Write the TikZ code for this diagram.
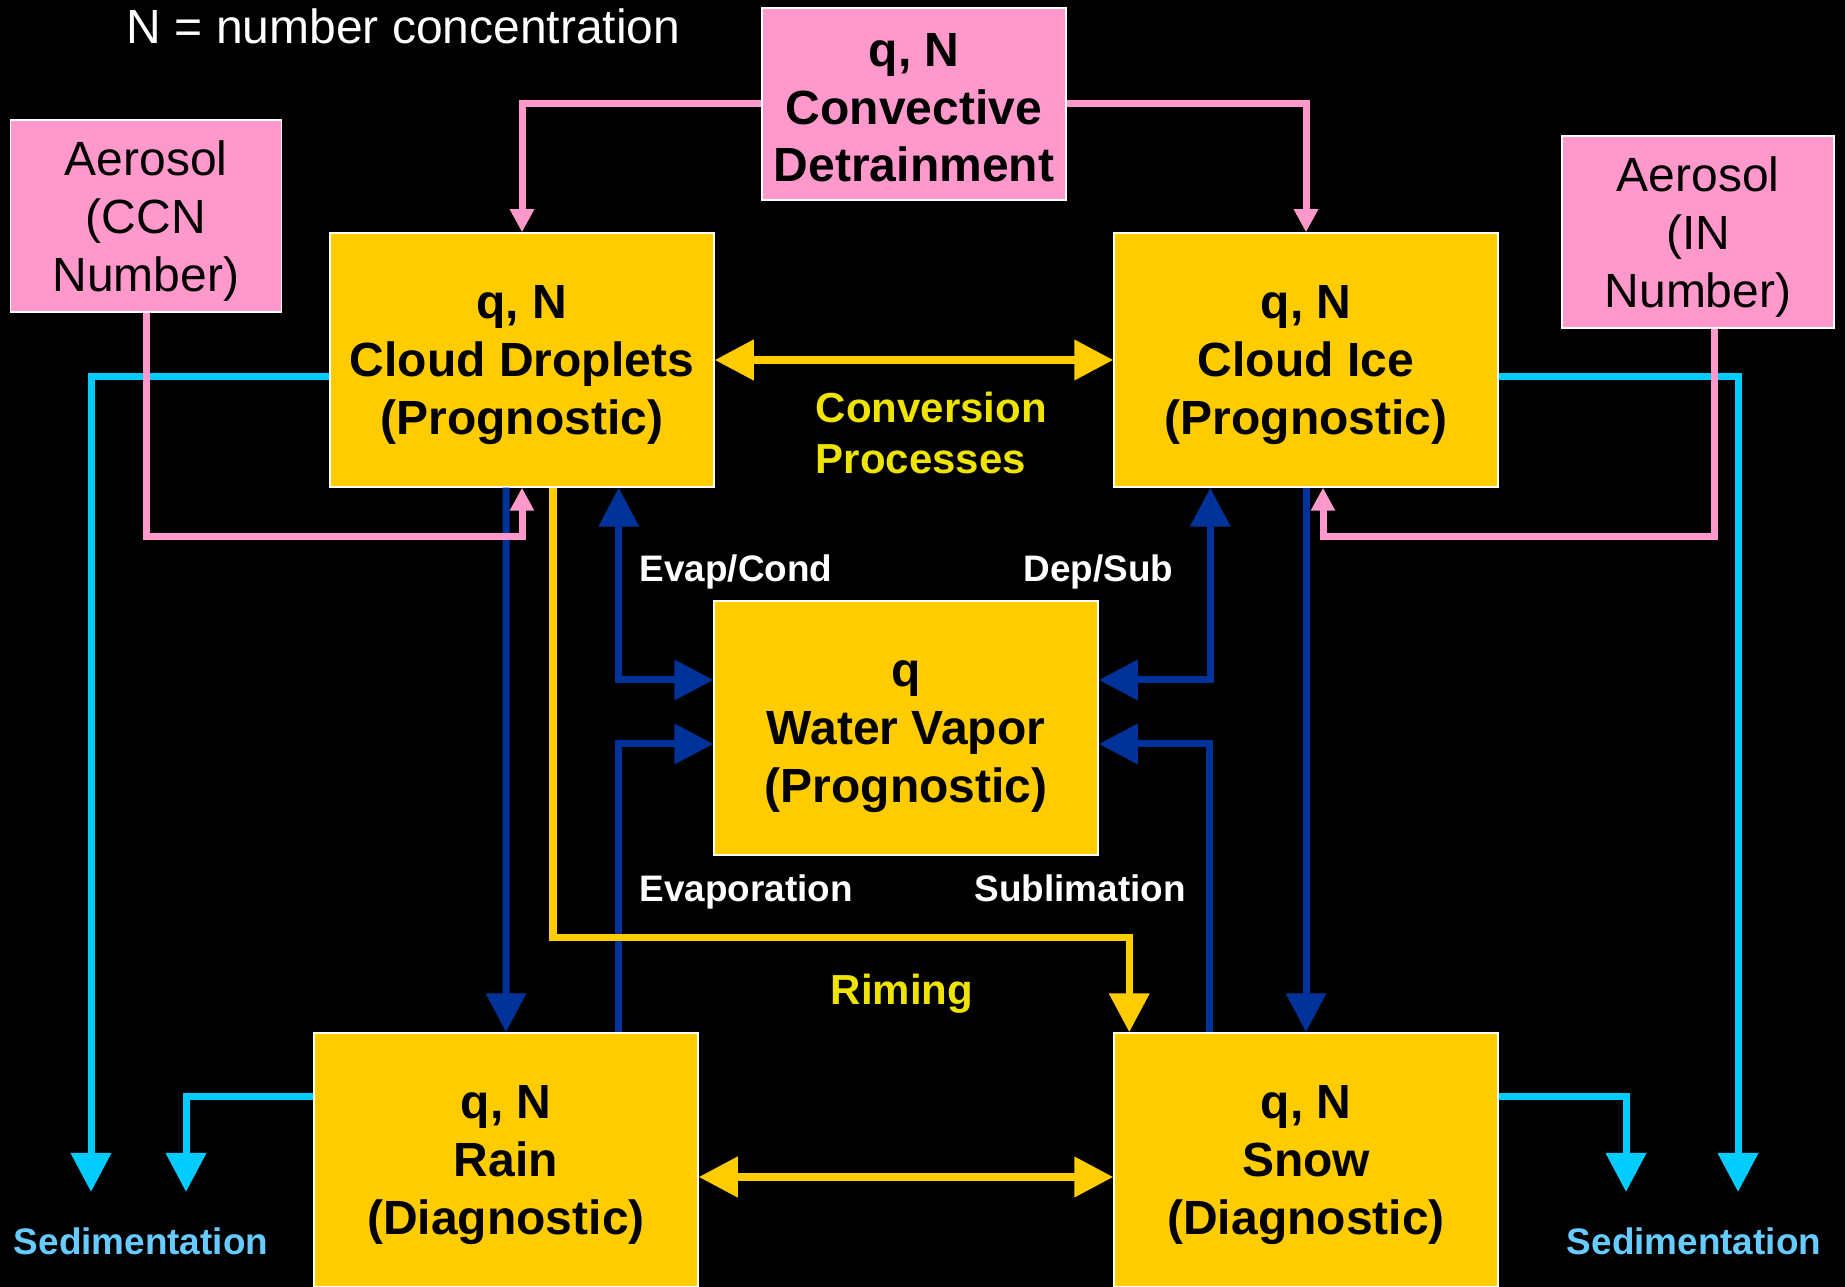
\documentclass[tikz,border=0pt]{standalone}
\usepackage{fontspec}
\setmainfont{Liberation Sans}
\usetikzlibrary{arrows.meta}
\definecolor{boxyellow}{HTML}{FFCC00}
\definecolor{boxpink}{HTML}{FF99CC}
\definecolor{flowblue}{HTML}{003399}
\definecolor{flowcyan}{HTML}{00CCFF}
\definecolor{sedblue}{HTML}{66CCFF}
\definecolor{lemon}{HTML}{EEE400}

\begin{document}
\begin{tikzpicture}[x=0.1mm,y=-0.1mm,
  species/.style={draw=white,line width=0.15mm,fill=boxyellow,minimum width=38.4mm,minimum height=25.4mm,
    inner sep=0pt,text depth=0pt,align=center,font=\fontsize{13.66}{16.4}\selectfont\bfseries},
  source/.style={draw=white,line width=0.15mm,fill=boxpink,minimum height=19.2mm,
    inner sep=0pt,text depth=0pt,align=center,font=\fontsize{13.66}{16.4}\selectfont},
  bigtip/.style={-{Triangle[length=3.9mm,width=3.9mm]}},
  bothtips/.style={{Triangle[length=3.9mm,width=3.9mm]}-{Triangle[length=3.9mm,width=3.9mm]}},
  bluearrow/.style={flowblue,line width=0.7mm},
  yellowarrow/.style={boxyellow,line width=0.75mm},
  cyanarrow/.style={flowcyan,line width=0.7mm,bigtip},
  pinkarrow/.style={boxpink,line width=0.7mm,-{Triangle[length=2.3mm,width=2.3mm]}},
  proc/.style={white,inner sep=0pt,anchor=base west,font=\fontsize{10.5}{12.6}\selectfont\bfseries},
  note/.style={lemon,inner sep=0pt,align=left,font=\fontsize{11.95}{14.5}\selectfont\bfseries}]
\useasboundingbox (0,0) rectangle (1845,1287);
\fill[black] (0,0) rectangle (1845,1287);

\node[white,inner sep=0pt,anchor=west,font=\fontsize{13.66}{16.4}\selectfont] (legend) at (126,26) {N = number concentration};
\node[source,minimum width=30.4mm,font=\fontsize{13.66}{16.4}\selectfont\bfseries] (conv) at (914,104) {\rule{0pt}{11.5pt}q, N\\Convective\\Detrainment};
\node[source,minimum width=27.1mm] (ccn) at (146,216) {Aerosol\\(CCN\\Number)};
\node[source,minimum width=27.2mm] (in) at (1698,232) {Aerosol\\(IN\\Number)};
\node[species] (drop) at (522,360) {q, N\\Cloud Droplets\\(Prognostic)};
\node[species] (ice) at (1306,360) {q, N\\Cloud Ice\\(Prognostic)};
\node[species] (vap) at (906,728) {\vphantom{N}q\\Water Vapor\\(Prognostic)};
\node[species] (rain) at (506,1160) {q, N\\Rain\\(Diagnostic)};
\node[species] (snow) at (1306,1160) {q, N\\Snow\\(Diagnostic)};

\coordinate (sedA) at (91,1192); \coordinate (sedB) at (186,1192);
\coordinate (sedC) at (1626,1192); \coordinate (sedD) at (1738,1192);

\draw[bluearrow,bigtip] ([xshift=-1.6mm]drop.south) -- (rain.north);
\draw[bluearrow,bigtip] (ice.south) -- (snow.north);
\draw[bluearrow,bothtips] ([xshift=-9.6mm]drop.south east) |- ([yshift=4.8mm]vap.west);
\draw[bluearrow,bigtip] ([xshift=11.2mm]rain.north) |- ([yshift=-1.6mm]vap.west);
\draw[bluearrow,bothtips] ([xshift=9.7mm]ice.south west) |- ([yshift=4.8mm]vap.east);
\draw[bluearrow,bigtip] ([xshift=9.6mm]snow.north west) |- ([yshift=-1.6mm]vap.east);

\draw[yellowarrow,bothtips] (drop.east) -- (ice.west);
\draw[yellowarrow,bothtips] ([yshift=-1.7mm]rain.east) -- ([yshift=-1.7mm]snow.west);
\draw[yellowarrow,bigtip] ([xshift=3.1mm]drop.south) -- ++(0,450) -| ([xshift=1.6mm]snow.north west);

\draw[cyanarrow] ([yshift=-1.7mm]drop.west) -| (sedA);
\draw[cyanarrow] ([yshift=6.3mm]rain.west) -| (sedB);
\draw[cyanarrow] ([yshift=6.3mm]snow.east) -| (sedC);
\draw[cyanarrow] ([yshift=-1.7mm]ice.east) -| (sedD);

\draw[pinkarrow] (conv.west) -| (drop.north);
\draw[pinkarrow] (conv.east) -| (ice.north);
\draw[pinkarrow] (ccn.south) -- ++(0,224) -| (drop.south);
\draw[pinkarrow] ([xshift=1.6mm]in.south) -- ++(0,208) -| ([xshift=1.7mm]ice.south);

\node[note,anchor=west] (conversion) at (815,433) {Conversion\\Processes};
\node[note,anchor=base] (riming) at (902,1005) {Riming};
\node[proc] (evapcond) at (639,582) {Evap/Cond};
\node[proc] (depsub) at (1023,582) {Dep/Sub};
\node[proc] (evaporation) at (639,902) {Evaporation};
\node[proc] (sublimation) at (974,902) {Sublimation};
\node[sedblue,font=\fontsize{10.5}{12.6}\selectfont\bfseries] (sedleft) at (141,1241) {Sedimentation};
\node[sedblue,font=\fontsize{10.5}{12.6}\selectfont\bfseries] (sedright) at (1694,1241) {Sedimentation};
\end{tikzpicture}
\end{document}
